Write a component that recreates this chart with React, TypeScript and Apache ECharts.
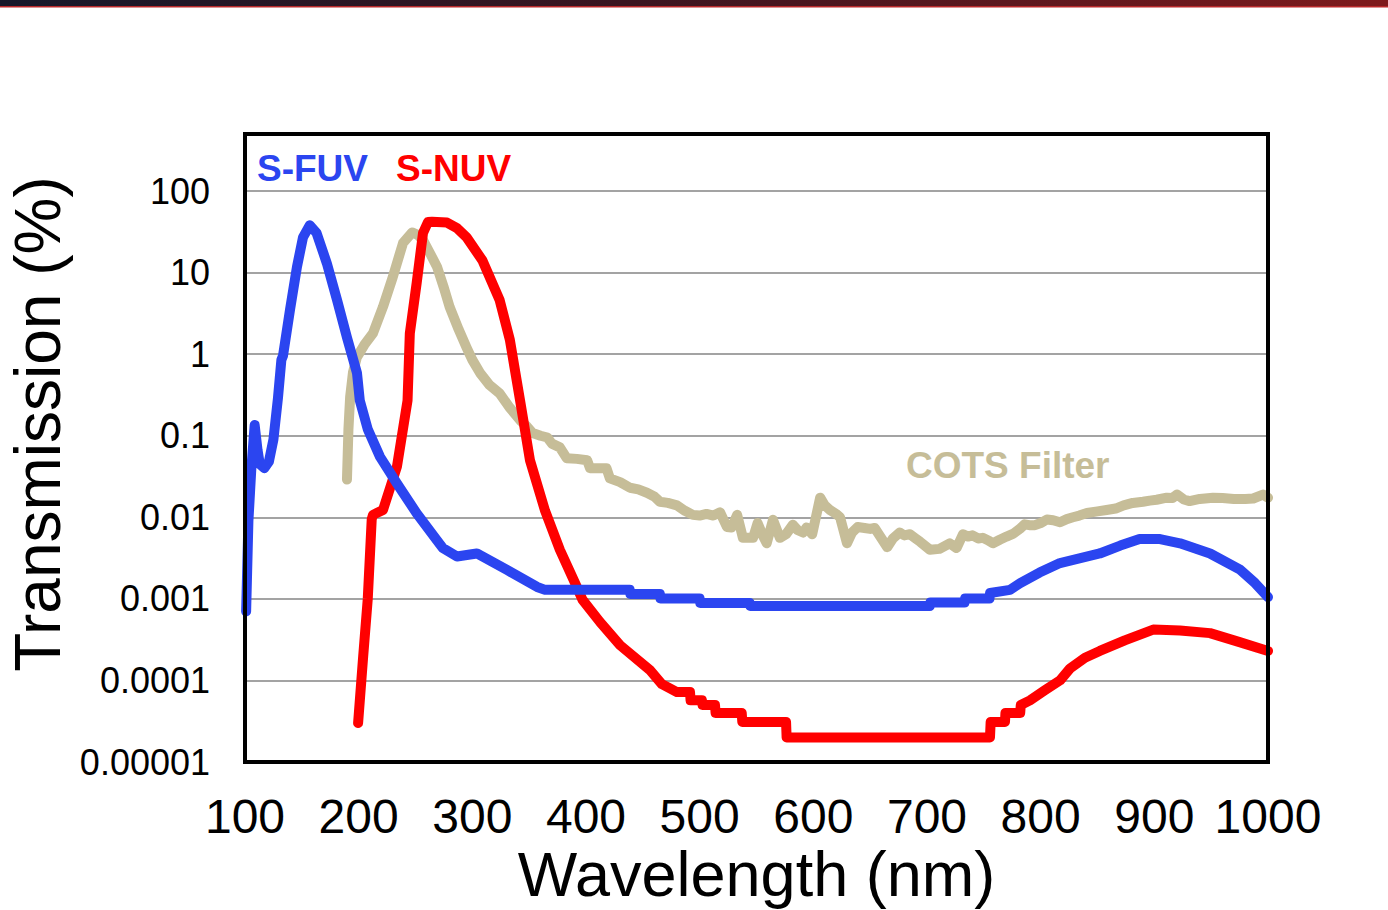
import React, { useEffect, useRef } from "react";
import * as echarts from "echarts";

// ---- Data (wavelength in nm, transmission in %) ----
const xTickValues = [100, 200, 300, 400, 500, 600, 700, 800, 900, 1000];
const yTickLabels = ["0.00001", "0.0001", "0.001", "0.01", "0.1", "1", "10", "100"];

const fuvWl = [
  101, 103, 105.5, 108.5, 111, 113, 117, 121, 125, 129, 132, 133.4, 139.6, 145.7, 151, 157, 163, 172, 181, 189.7,
  198.5, 201, 208, 218.8, 233.7, 251, 269, 274, 286.5, 298, 304, 330.5, 357, 364,
  438.5, 439, 465, 465.5, 500, 500.5, 544, 544.5, 702.5, 703, 733, 733.5, 755, 755.5,
  773, 782, 799, 817, 852, 870, 887, 905, 922.6, 949, 975, 988.6, 1000,
];
const fuvT = [
  0.0007, 0.009, 0.038, 0.135, 0.067, 0.045, 0.04, 0.048, 0.09, 0.29, 0.85, 0.95, 3.5, 11.7, 27, 38, 30.5, 13, 4.6, 1.6,
  0.59, 0.27, 0.12, 0.055, 0.026, 0.0112, 0.0052, 0.0042, 0.0033, 0.0035, 0.0036, 0.00226, 0.0014, 0.00129,
  0.00129, 0.00115, 0.00115, 0.00101, 0.00101, 0.00089, 0.00089, 0.00082, 0.00082, 0.0009, 0.0009, 0.00101, 0.00101, 0.00118,
  0.00129, 0.00156, 0.0021, 0.00275, 0.0036, 0.0045, 0.0054, 0.0054, 0.0048, 0.0036, 0.0023, 0.00156, 0.00105,
];

const nuvWl = [
  199.5, 204, 208, 211.5, 212.6, 221.4, 233.7, 243, 245, 251, 256.6, 261, 264.5, 277.7, 286.5, 295, 309, 324, 333, 342,
  350.7, 364, 377, 393, 397, 412.3, 430, 456, 466.8, 480, 491.5, 492, 502, 502.5, 513.5, 514, 537, 537.5, 576, 576.5,
  755.4, 756, 768.6, 769, 782, 782.5, 790.6, 803.8, 817, 825.8, 839, 852, 874, 899, 922.6, 949, 975, 1000,
];
const nuvT = [
  0.00003, 0.0002, 0.001, 0.0095, 0.0107, 0.0123, 0.042, 0.27, 1.8, 7.4, 30.5, 41.7, 42, 41, 35, 27, 14, 4.6, 1.5, 0.27,
  0.05, 0.012, 0.004, 0.0013, 0.00097, 0.00052, 0.00027, 0.000135, 0.00009, 0.000072, 0.000072, 0.000057, 0.000057, 0.00005, 0.00005, 0.00004, 0.00004, 0.000031, 0.000031, 0.00002,
  0.00002, 0.000031, 0.000031, 0.00004, 0.00004, 0.00005, 0.000057, 0.000076, 0.0001, 0.00014, 0.00019, 0.00023, 0.00031, 0.00042, 0.00041, 0.00038, 0.000295, 0.00023,
];

const cotsWl = [
  189.7, 191, 192.5, 195, 198.5, 205, 212.6, 221.4, 230, 239, 247, 252, 256.6, 263, 269, 275, 280, 288, 295, 300,
  306.7, 315, 324, 333, 342, 348, 353, 360, 366, 370, 377, 383, 392, 401, 403.5, 418, 421, 430, 438.7, 446,
  453.6, 460, 465, 472, 480, 487, 494, 500, 506, 512, 518, 524, 528, 533, 538, 547, 551, 555, 559, 564.5,
  570.6, 576, 582, 586, 591, 594, 599, 606, 610, 614.6, 620, 623.5, 629.6, 634, 639, 645, 650, 654, 660, 665,
  670, 676, 680, 685, 690, 694, 702.6, 711, 720, 726, 731.7, 736, 740, 745, 749, 754, 758, 764, 770, 776,
  782, 786, 790, 795, 800, 805.5, 811, 817, 823, 828.4, 834, 840.7, 850, 858, 866, 873, 881, 890, 896, 902,
  911, 916, 920, 926, 931, 940, 951.6, 960, 970, 980, 987, 995.6, 1000,
];
const cotsT = [
  0.029, 0.12, 0.3, 0.6, 0.92, 1.3, 1.8, 3.8, 8.8, 23, 31, 29, 25, 17, 11.7, 6.5, 3.8, 2.0, 1.2, 0.85,
  0.59, 0.42, 0.33, 0.22, 0.155, 0.13, 0.108, 0.1, 0.095, 0.08, 0.072, 0.053, 0.052, 0.05, 0.04, 0.04, 0.03, 0.027, 0.023, 0.022,
  0.02, 0.018, 0.0155, 0.015, 0.014, 0.012, 0.0107, 0.0105, 0.011, 0.0105, 0.0115, 0.0076, 0.0075, 0.0107, 0.0056, 0.0056, 0.0085, 0.0062, 0.0048, 0.0093,
  0.0056, 0.0062, 0.0081, 0.007, 0.0065, 0.0075, 0.0062, 0.0174, 0.014, 0.0123, 0.011, 0.01, 0.0048, 0.0065, 0.0076, 0.0074, 0.0072, 0.0074, 0.0055, 0.0043,
  0.0055, 0.0065, 0.006, 0.0062, 0.0055, 0.005, 0.004, 0.0041, 0.0048, 0.0042, 0.0062, 0.0058, 0.006, 0.0055, 0.0056, 0.0052, 0.0048, 0.0053, 0.0058, 0.0063,
  0.0073, 0.0082, 0.008, 0.008, 0.0085, 0.0094, 0.0092, 0.0087, 0.0095, 0.01, 0.0105, 0.0113, 0.0118, 0.0123, 0.0128, 0.014, 0.015, 0.0155, 0.016, 0.0164,
  0.0174, 0.0172, 0.019, 0.0165, 0.0158, 0.0168, 0.0174, 0.0172, 0.0168, 0.0168, 0.017, 0.019, 0.0174,
];

const seriesNames = ["COTS Filter", "S-NUV", "S-FUV"];
const seriesColors = ["#C6BD98", "#FF0000", "#2B45F0"];

const FONT = "'Liberation Sans', Arial, Helvetica, sans-serif";

function pairs(x: number[], y: number[]) {
  return x.map((v, i) => [v, y[i]]);
}

export default function App() {
  const ref = useRef<HTMLDivElement>(null);
  useEffect(() => {
    if (!ref.current) return;
    const chart = echarts.init(ref.current, undefined, { renderer: "svg" });
    const data = [pairs(cotsWl, cotsT), pairs(nuvWl, nuvT), pairs(fuvWl, fuvT)];
    const left = 245, right = 1268, top = 191, bottom = 762, frameTop = 134;
    chart.setOption({
      animation: false,
      backgroundColor: "#ffffff",
      grid: { left, right: 1388 - right, top, bottom: 910 - bottom, containLabel: false },
      xAxis: {
        type: "value",
        min: 100,
        max: 1000,
        interval: 100,
        axisLine: { show: false },
        axisTick: { show: false },
        splitLine: { show: false },
        axisLabel: {
          fontSize: 48,
          lineHeight: 48,
          color: "#000",
          fontFamily: FONT,
          margin: 30,
          formatter: (v: number) => (xTickValues.includes(v) ? String(v) : ""),
        },
      },
      yAxis: {
        type: "log",
        logBase: 10,
        min: 0.00001,
        max: 100,
        splitNumber: 7,
        axisLine: { show: false },
        axisTick: { show: false },
        splitLine: { show: true, lineStyle: { color: "#a3a3a3", width: 2 } },
        axisLabel: {
          fontSize: 36,
          color: "#000",
          fontFamily: FONT,
          margin: 35,
          formatter: (v: number) => {
            const k = Math.round(Math.log10(v)) + 5;
            return yTickLabels[k] ?? "";
          },
        },
      },
      series: data.map((d, i) => ({
        type: "line",
        name: seriesNames[i],
        data: d,
        showSymbol: false,
        symbol: "none",
        smooth: false,
        clip: true,
        lineStyle: { color: seriesColors[i], width: 10, cap: "round", join: "round" },
        z: 2 + i,
      })),
      graphic: [
        {
          type: "rect",
          shape: { x: 0, y: 0, width: 1388, height: 7 },
          style: {
            fill: {
              type: "linear", x: 0, y: 0, x2: 1, y2: 0,
              colorStops: [
                { offset: 0, color: "#16182a" },
                { offset: 0.45, color: "#3a1520" },
                { offset: 1, color: "#7e1a1c" },
              ],
            },
          },
          z: 10,
        },
        {
          type: "rect",
          shape: { x: 0, y: 6, width: 1388, height: 1.5 },
          style: { fill: "#b8282a" },
          z: 11,
        },
        {
          type: "rect",
          shape: { x: left, y: frameTop, width: right - left, height: bottom - frameTop },
          style: { fill: "none", stroke: "#000", lineWidth: 4 },
          z: 20,
        },
        {
          type: "text",
          x: 257, y: 168,
          style: { text: "S-FUV", fill: seriesColors[2], font: `bold 37px ${FONT}`, verticalAlign: "middle", align: "left" },
          z: 20,
        },
        {
          type: "text",
          x: 396, y: 168,
          style: { text: "S-NUV", fill: seriesColors[1], font: `bold 37px ${FONT}`, verticalAlign: "middle", align: "left" },
          z: 20,
        },
        {
          type: "text",
          x: 906, y: 465,
          style: { text: "COTS Filter", fill: seriesColors[0], font: `bold 37px ${FONT}`, verticalAlign: "middle", align: "left" },
          z: 20,
        },
        {
          type: "text",
          x: (left + right) / 2, y: 874,
          style: { text: "Wavelength (nm)", fill: "#000", font: `63px ${FONT}`, lineHeight: 63, verticalAlign: "middle", align: "center" },
          z: 20,
        },
        {
          type: "text",
          x: 38, y: 424,
          rotation: Math.PI / 2,
          style: { text: "Transmission (%)", fill: "#000", font: `64px ${FONT}`, verticalAlign: "middle", align: "center" },
          z: 20,
        },
      ],
    });
    return () => chart.dispose();
  }, []);
  return (
    <div
      ref={ref}
      style={{ position: "fixed", left: 0, top: 0, width: 1388, height: 910, background: "#fff" }}
    />
  );
}
